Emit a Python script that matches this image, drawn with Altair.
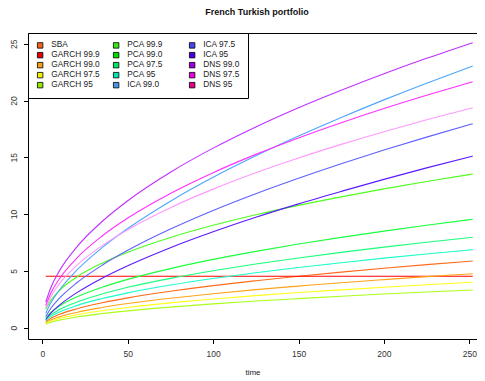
import altair as alt
import pandas as pd

# ---- data ----
time = [2, 5, 10, 20, 35, 50, 75, 100, 125, 150, 175, 200, 225, 252]

series_names = ["SBA", "GARCH 99.9", "GARCH 99.0", "GARCH 97.5", "GARCH 95",
                "PCA 99.9", "PCA 99.0", "PCA 97.5", "PCA 95",
                "ICA 99.0", "ICA 97.5", "ICA 95",
                "DNS 99.0", "DNS 97.5", "DNS 95"]

sba = [0.52, 0.83, 1.17, 1.65, 2.19, 2.62, 3.20, 3.70, 4.13, 4.53, 4.89, 5.23, 5.55, 5.87]
garch_999 = [4.52, 4.52, 4.52, 4.52, 4.52, 4.52, 4.52, 4.52, 4.52, 4.52, 4.52, 4.52, 4.52, 4.52]
garch_990 = [0.42, 0.67, 0.95, 1.34, 1.77, 2.12, 2.59, 2.99, 3.35, 3.66, 3.96, 4.23, 4.49, 4.75]
garch_975 = [0.36, 0.56, 0.80, 1.13, 1.49, 1.78, 2.18, 2.52, 2.82, 3.09, 3.33, 3.56, 3.78, 4.00]
garch_95 = [0.30, 0.47, 0.66, 0.94, 1.24, 1.48, 1.81, 2.09, 2.34, 2.56, 2.77, 2.96, 3.14, 3.32]
pca_999 = [1.61, 2.41, 3.27, 4.44, 5.68, 6.64, 7.94, 9.01, 9.94, 10.77, 11.52, 12.22, 12.87, 13.53]
pca_990 = [0.85, 1.34, 1.90, 2.69, 3.56, 4.25, 5.20, 6.01, 6.72, 7.36, 7.95, 8.50, 9.02, 9.54]
pca_975 = [0.71, 1.12, 1.59, 2.24, 2.97, 3.55, 4.34, 5.01, 5.61, 6.14, 6.63, 7.09, 7.52, 7.96]
pca_95 = [0.61, 0.97, 1.37, 1.94, 2.56, 3.06, 3.75, 4.33, 4.84, 5.30, 5.72, 6.12, 6.49, 6.87]
ica_990 = [1.26, 2.19, 3.32, 5.04, 7.05, 8.73, 11.14, 13.24, 15.13, 16.87, 18.51, 20.06, 21.53, 23.04]
ica_975 = [0.99, 1.71, 2.59, 3.93, 5.50, 6.81, 8.68, 10.32, 11.79, 13.15, 14.43, 15.64, 16.78, 17.96]
ica_95 = [0.72, 1.28, 1.98, 3.06, 4.36, 5.45, 7.04, 8.44, 9.72, 10.90, 12.00, 13.06, 14.07, 15.11]
dns_990 = [2.24, 3.54, 5.00, 7.07, 9.35, 11.18, 13.69, 15.81, 17.68, 19.37, 20.91, 22.36, 23.72, 25.10]
dns_975 = [1.93, 3.05, 4.31, 6.10, 8.07, 9.65, 11.82, 13.65, 15.26, 16.71, 18.05, 19.30, 20.47, 21.66]
dns_95 = [1.73, 2.73, 3.86, 5.46, 7.22, 8.63, 10.57, 12.20, 13.64, 14.94, 16.14, 17.26, 18.31, 19.37]

values = [sba, garch_999, garch_990, garch_975, garch_95,
          pca_999, pca_990, pca_975, pca_95,
          ica_990, ica_975, ica_95,
          dns_990, dns_975, dns_95]

line_colors = ["#FF6A1A", "#FF0000", "#FFA31A", "#FFFF1A", "#AAFF1A",
               "#4DFF1A", "#1AFF3C", "#1AFF7A", "#1AFFC8",
               "#4DA6FF", "#6060FF", "#5A1AFF",
               "#C030FF", "#FF30FF", "#FF99FF"]

legend_colors = ["#F0641E", "#E60000", "#F0A014", "#F0F000", "#96E600",
                 "#3CE614", "#00DC00", "#00E664", "#00E6B4",
                 "#4696E6", "#4646F0", "#4600E6",
                 "#A000E6", "#E600E6", "#E6008C"]

x_ticks = [0, 50, 100, 150, 200, 250]
y_ticks = [0, 5, 10, 15, 20, 25]

# ---- tables ----
rows = []
for name, vals in zip(series_names, values):
    for t, v in zip(time, vals):
        rows.append({"time": t, "value": v, "series": name})
df = pd.DataFrame(rows)
leg_df = df[df["time"] == time[0]].reset_index(drop=True)

FONT = "Liberation Sans"
x_scale = alt.Scale(domain=[-8.4, 254.5], nice=False, zero=False)
y_scale = alt.Scale(domain=[-1.0, 25.95], nice=False, zero=False)

y_axis = alt.Axis(values=y_ticks, title=None, grid=False, domain=True,
                  domainColor="black", tickColor="black", tickSize=4.5,
                  labelAngle=270, labelAlign="center", labelBaseline="bottom",
                  labelPadding=5, labelFontSize=8.5, labelFont=FONT,
                  labelColor="#333333")

lines = alt.Chart(df).mark_line(strokeWidth=1.1, interpolate="monotone", clip=True).encode(
    x=alt.X("time:Q", scale=x_scale,
            axis=alt.Axis(values=x_ticks, title="time", grid=False, domain=True,
                          domainColor="black", tickColor="black", tickSize=4.5,
                          labelPadding=6, labelFontSize=8.5, labelFont=FONT,
                          labelColor="#333333", titleFont=FONT, titleFontSize=8,
                          titleFontWeight="normal", titleColor="#222222",
                          titlePadding=10)),
    y=alt.Y("value:Q", scale=y_scale, axis=y_axis),
    color=alt.Color("series:N", scale=alt.Scale(domain=series_names, range=line_colors),
                    legend=None),
)

legend_layer = alt.Chart(leg_df).mark_square(filled=True, opacity=0, stroke="black",
                                             strokeWidth=0.8, size=30).encode(
    x=alt.X("time:Q", scale=x_scale,
            axis=alt.Axis(orient="top", labels=False, ticks=False, title=None,
                          domain=True, domainColor="black", grid=False)),
    y=alt.Y("value:Q", scale=y_scale, axis=y_axis),
    fill=alt.Fill("series:N",
                  scale=alt.Scale(domain=series_names, range=legend_colors),
                  legend=alt.Legend(title=None, orient="none", legendX=0, legendY=0,
                                    columns=3, gridAlign="all", columnPadding=11,
                                    rowPadding=0, symbolType="square", symbolSize=30,
                                    symbolStrokeColor="black", symbolStrokeWidth=0.8,
                                    symbolOpacity=1, labelFontSize=8.3, labelFont=FONT,
                                    labelColor="#222222", labelOffset=7, padding=8,
                                    strokeColor="black", fillColor="white",
                                    cornerRadius=0)),
)

chart = alt.layer(lines, legend_layer).resolve_scale(
    color="independent", fill="independent"
).resolve_axis(x="independent").properties(
    width=449, height=306,
    padding={"left": 20, "top": 25, "right": 0, "bottom": 38},
    autosize=alt.AutoSizeParams(type="none"),
    title=alt.TitleParams("French Turkish portfolio", fontSize=9, fontWeight="bold",
                          font=FONT, color="#111111", dx=4.5, offset=8.5,
                          baseline="alphabetic", frame="group", anchor="middle"),
).configure_view(stroke=None)

chart.save("out.html", embed_options={"renderer": "svg", "actions": False})
